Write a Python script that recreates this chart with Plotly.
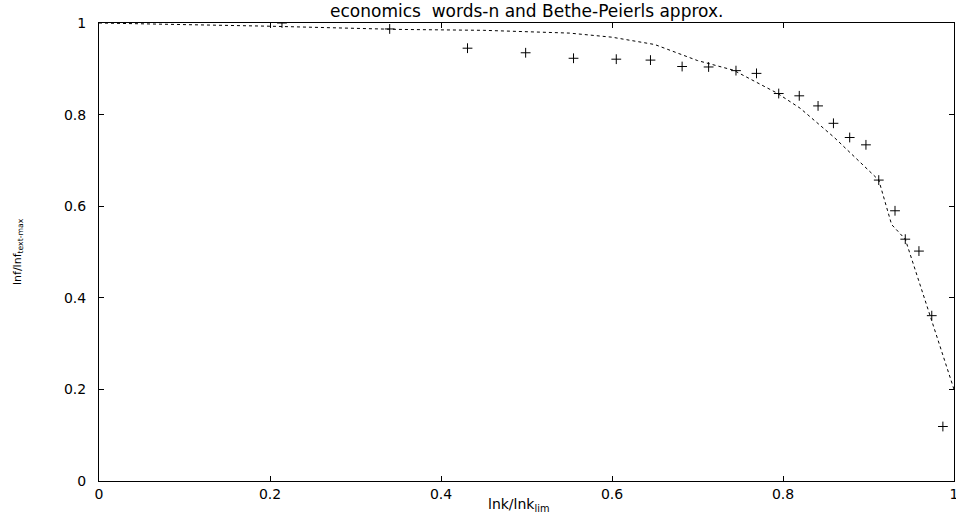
import plotly.graph_objects as go

# Data points (words-n)
pts_x = [0.214, 0.340, 0.431, 0.499, 0.555, 0.605, 0.645, 0.682, 0.713, 0.745, 0.769,
         0.795, 0.819, 0.841, 0.859, 0.878, 0.897, 0.912, 0.931, 0.943, 0.959, 0.974, 0.987]
pts_y = [1.000, 0.987, 0.945, 0.935, 0.923, 0.921, 0.919, 0.905, 0.904, 0.896, 0.890,
         0.846, 0.841, 0.819, 0.781, 0.750, 0.734, 0.657, 0.590, 0.528, 0.502, 0.361, 0.119]

# Bethe-Peierls approximation curve
bp_x = [0.0, 0.2, 0.35, 0.45, 0.55, 0.6, 0.65, 0.70, 0.742, 0.793, 0.82, 0.86, 0.912, 0.927, 0.943, 1.0]
bp_y = [1.0, 0.993, 0.986, 0.984, 0.978, 0.969, 0.953, 0.918, 0.897, 0.847, 0.814, 0.75, 0.657, 0.560, 0.528, 0.2]

tick_vals = [0, 0.2, 0.4, 0.6, 0.8, 1]
tick_text = ["0", "0.2", "0.4", "0.6", "0.8", "1"]

FONT = "DejaVu Sans, Liberation Sans, sans-serif"

fig = go.Figure()
fig.add_trace(go.Scatter(x=bp_x, y=bp_y, mode="lines",
                         line=dict(color="black", width=1, dash="dot"),
                         showlegend=False, hoverinfo="skip"))
fig.add_trace(go.Scatter(x=pts_x, y=pts_y, mode="markers",
                         marker=dict(symbol="cross-thin", size=7,
                                     line=dict(color="black", width=1)),
                         showlegend=False))

axis_common = dict(showgrid=False, zeroline=False, showline=True, linecolor="black",
                   linewidth=1, mirror="ticks", ticks="inside", ticklen=5,
                   tickcolor="black", ticklabeloverflow="allow",
                   tickfont=dict(family=FONT, size=14, color="black"))

fig.update_xaxes(range=[0, 1], tickvals=tick_vals, ticktext=tick_text,
                 ticklabelstandoff=0, **axis_common)
fig.update_yaxes(range=[0, 1], tickvals=tick_vals, ticktext=tick_text,
                 ticklabelstandoff=9, **axis_common)

fig.update_layout(
    width=956, height=516,
    margin=dict(l=99, r=2, t=23, b=35, autoexpand=False),
    plot_bgcolor="white", paper_bgcolor="white",
    font=dict(family=FONT, color="black"),
    annotations=[
        dict(text="economics  words-n and Bethe-Peierls approx.", x=0.5, y=1, xref="paper",
             yref="paper", yanchor="middle", yshift=12, showarrow=False,
             font=dict(size=17, color="black")),
        dict(text="lnk/lnk<sub>lim</sub>", x=0.5, y=0, xref="paper", yref="paper",
             yanchor="middle", yshift=-24, xshift=-8, showarrow=False,
             font=dict(size=14, color="black")),
        dict(text="lnf/lnf<sub>text-max</sub>", x=0, y=0.5, xref="paper", yref="paper",
             xanchor="center", xshift=-81, showarrow=False, textangle=-90,
             font=dict(size=11, color="black")),
    ],
)

fig.write_html("out.html", config={"displayModeBar": False},
               post_script="document.body.style.margin='0';document.body.style.overflow='hidden';")
